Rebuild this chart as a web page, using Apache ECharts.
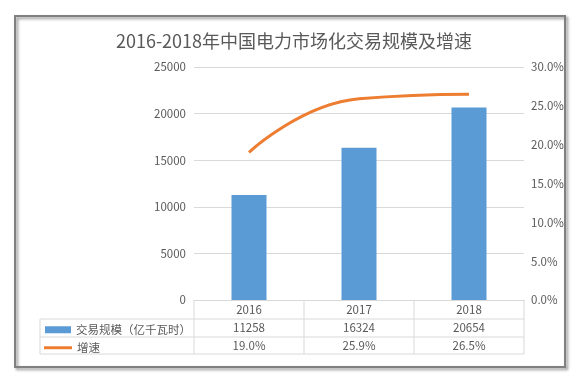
<!DOCTYPE html>
<html><head><meta charset="utf-8">
<script src="https://cdn.jsdelivr.net/npm/echarts@6/dist/echarts.min.js"></script>
<style>html,body{margin:0;padding:0;background:#fff}#c{width:588px;height:384px}</style>
</head><body><div id="c"></div>
<script>
const categories = ['2016', '2017', '2018'];
const scaleValues = [11258, 16324, 20654];
const growthValues = [19.0, 25.9, 26.5];
const leftTicks = {min: 0, max: 25000, interval: 5000};
const rightTicks = {min: 0, max: 30, interval: 5};
const FONT = '"Noto Sans CJK SC", sans-serif';
const TXT = '#595959';
const LINE = '#d9d9d9';

const chart = echarts.init(document.getElementById('c'));
function hline(x1, x2, y) { return {type: 'line', shape: {x1, y1: y, x2, y2: y}, style: {stroke: LINE, lineWidth: 1}, silent: true}; }
function vline(x, y1, y2) { return {type: 'line', shape: {x1: x, y1, x2: x, y2}, style: {stroke: LINE, lineWidth: 1}, silent: true}; }
const legendText = {fontSize: 11.5, color: TXT, fontFamily: FONT};
chart.setOption({
  animation: false,
  textStyle: {fontFamily: FONT},
  title: {text: '2016-2018年中国电力市场化交易规模及增速', left: 'center', top: 27,
    textStyle: {fontSize: 18, fontWeight: 'normal', color: TXT, fontFamily: FONT}},
  legend: [
    {left: 40, top: 319, itemGap: 6, itemWidth: 26, itemHeight: 7, textStyle: legendText,
      data: [{name: '交易规模（亿千瓦时）', icon: 'rect'}]},
    {left: 39, top: 337, itemWidth: 28, itemHeight: 3, textStyle: legendText,
      data: [{name: '增速', icon: 'rect'}]}
  ],
  grid: {left: 194, right: 64, top: 67, bottom: 84},
  xAxis: {type: 'category', data: categories,
    axisLine: {show: true, lineStyle: {color: LINE}}, axisTick: {show: false},
    axisLabel: {color: TXT, fontSize: 11.5, margin: 1, lineHeight: 18,
      formatter: (v, i) => v + '\n' + scaleValues[i] + '\n' + growthValues[i].toFixed(1) + '%'}},
  yAxis: [
    {type: 'value', min: leftTicks.min, max: leftTicks.max, interval: leftTicks.interval,
      axisLine: {show: false}, axisTick: {show: false},
      axisLabel: {color: TXT, fontSize: 11.5, margin: 8, formatter: v => String(v)},
      splitLine: {lineStyle: {color: LINE}}},
    {type: 'value', min: rightTicks.min, max: rightTicks.max, interval: rightTicks.interval,
      axisLine: {show: false}, axisTick: {show: false},
      axisLabel: {color: TXT, fontSize: 11.5, margin: 7, formatter: v => v.toFixed(1) + '%'},
      splitLine: {show: false}}
  ],
  series: [
    {name: '交易规模（亿千瓦时）', type: 'bar', data: scaleValues, barWidth: 35,
      itemStyle: {color: '#5B9BD5'}},
    {name: '增速', type: 'line', yAxisIndex: 1, data: growthValues, smooth: true,
      symbol: 'none', lineStyle: {color: '#ED7D31', width: 3}, itemStyle: {color: '#ED7D31'}}
  ],
  graphic: [
    {type: 'rect', shape: {x: 15, y: 16, width: 550, height: 351},
      style: {fill: 'none', stroke: '#808080', lineWidth: 2, shadowColor: 'rgba(0,0,0,0.45)', shadowBlur: 3, shadowOffsetX: 2, shadowOffsetY: 2}, silent: true, z: -1},
    hline(40, 524, 319), hline(40, 524, 337), hline(40, 524, 354),
    vline(40, 319, 354), vline(194, 300, 354), vline(304, 300, 354), vline(414, 300, 354), vline(524, 300, 354)
  ]
});
</script></body></html>
